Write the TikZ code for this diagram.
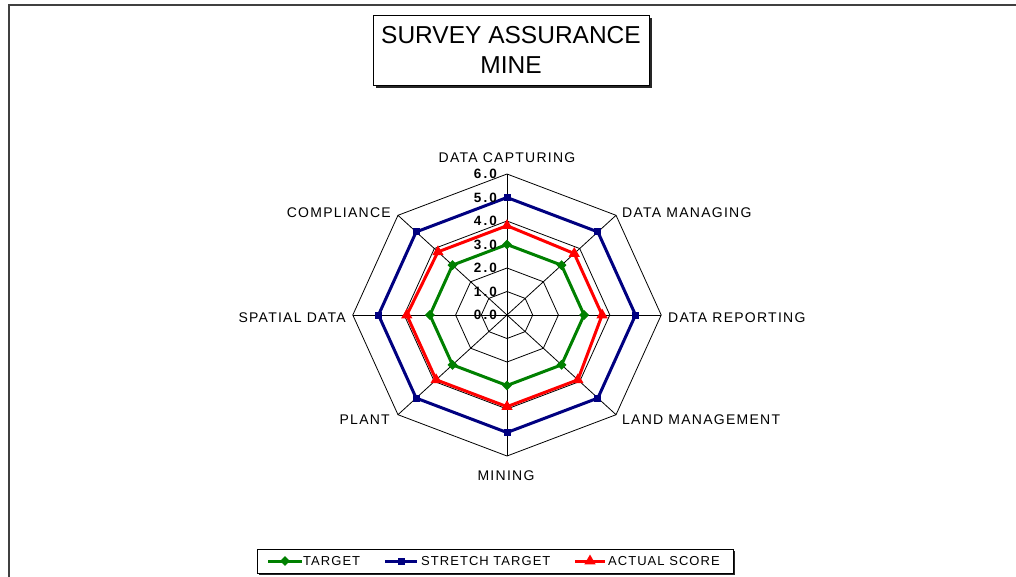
\documentclass[tikz,border=0pt]{standalone}
\usepackage{fontspec}
\setmainfont{Liberation Sans}
\newfontfamily\chartfont[LetterSpace=9]{Liberation Sans}
\newfontfamily\legendfont[LetterSpace=8]{Liberation Sans}
\newfontfamily\scalefont[LetterSpace=15]{Liberation Sans}
\usetikzlibrary{shapes.geometric}

\definecolor{tgtgreen}{RGB}{0,128,0}
\definecolor{strnavy}{RGB}{0,0,128}
\definecolor{actred}{RGB}{255,0,0}

\begin{document}
\begin{tikzpicture}[x=1pt, y=-1pt,
    axislbl/.style={font=\chartfont\fontsize{14}{14}\selectfont, inner sep=0pt},
    leglbl/.style={font=\legendfont\fontsize{13}{13}\selectfont, inner sep=0pt, anchor=west},
    scalelbl/.style={font=\scalefont\bfseries\fontsize{13.5}{13.5}\selectfont, inner sep=0pt, anchor=east},
    ringline/.style={black, line width=0.8pt},
    seriesline/.style={line width=3pt, line join=round},
    tgtmark/.style={diamond, fill=tgtgreen, inner sep=0pt, minimum size=10pt},
    strmark/.style={rectangle, fill=strnavy, inner sep=0pt, minimum size=7pt},
    actmark/.style={regular polygon, regular polygon sides=3, fill=actred, inner sep=0pt, minimum size=13pt}]
      \useasboundingbox (0,0) rectangle (1016,576);
      \clip (0,0) rectangle (1016,576);
      \draw[line width=2pt, black!75] (9,4.5) rectangle (1100,700);

      \fill[black!85] (375.5,17.5) rectangle (651.5,87.5);
      \node[draw, fill=white, line width=1pt, minimum width=276pt, minimum height=70pt, inner sep=0pt, align=center, font=\fontsize{24.5}{30}\selectfont] (title) at (511,50) {SURVEY ASSURANCE\\MINE};

      \begin{scope}[shift={(507pt,-315pt)}, x=25.7pt, y=23.5pt]
        \foreach \r in {1,...,6}
          \draw[ringline] (0:\r) \foreach \a in {45,90,...,315} { -- (\a:\r) } -- cycle;
        \foreach \a in {0,45,...,315}
          \draw[ringline] (0,0) -- (\a:6);

        \foreach \v [count=\i] in {3,3,3,3,3,3,3,3}
          \coordinate (tg\i) at ({135-45*\i}:\v);
        \foreach \v [count=\i] in {5,5,5,5,5,5,5,5}
          \coordinate (st\i) at ({135-45*\i}:\v);
        \foreach \v [count=\i] in {3.8,3.7,3.7,3.9,3.9,3.9,3.9,3.8}
          \coordinate (ac\i) at ({135-45*\i}:\v);

        \draw[seriesline, tgtgreen] (tg1) \foreach \i in {2,...,8} { -- (tg\i) } -- cycle;
        \foreach \i in {1,...,8} \node[tgtmark] (tgm\i) at (tg\i) {};
        \draw[seriesline, strnavy] (st1) \foreach \i in {2,...,8} { -- (st\i) } -- cycle;
        \foreach \i in {1,...,8} \node[strmark] (stm\i) at (st\i) {};
        \draw[seriesline, actred] (ac1) \foreach \i in {2,...,8} { -- (ac\i) } -- cycle;
        \foreach \i in {1,...,8} \node[actmark] (acm\i) at (ac\i) {};
      \end{scope}

      \foreach \k in {0,...,6}
        \node[scalelbl] (sc\k) at (497,{315-23.5*\k}) {\k.0};

      \node[axislbl] (dc) at (507,158) {DATA CAPTURING};
      \node[axislbl, anchor=west] (dm) at (622,213) {DATA MANAGING};
      \node[axislbl, anchor=west] (dr) at (668,318) {DATA REPORTING};
      \node[axislbl, anchor=west] (lm) at (622,420) {LAND MANAGEMENT};
      \node[axislbl] (mn) at (506,476) {MINING};
      \node[axislbl, anchor=east] (pl) at (390,420) {PLANT};
      \node[axislbl, anchor=east] (sd) at (346,318) {SPATIAL DATA};
      \node[axislbl, anchor=east] (cp) at (391,213) {COMPLIANCE};

      \fill[black!85] (258.5,550.5) rectangle (734.5,574.5);
      \draw[fill=white, line width=1pt] (257,549) rectangle (733,573);
      \coordinate (lg1) at (268,561);
      \coordinate (lg2) at (302,561);
      \coordinate (lg3) at (385,561);
      \coordinate (lg4) at (417,561);
      \coordinate (lg5) at (575,561);
      \coordinate (lg6) at (605,561);
      \draw[seriesline, tgtgreen] (lg1) -- (lg2);
      \node[tgtmark] (lgm1) at (285,561) {};
      \node[leglbl] (lgt1) at (303,561.5) {TARGET};
      \draw[seriesline, strnavy] (lg3) -- (lg4);
      \node[strmark] (lgm2) at (401,561) {};
      \node[leglbl] (lgt2) at (421,561.5) {STRETCH TARGET};
      \draw[seriesline, actred] (lg5) -- (lg6);
      \node[actmark] (lgm3) at (590,561) {};
      \node[leglbl] (lgt3) at (608,561.5) {ACTUAL SCORE};
    \end{tikzpicture}
\end{document}
